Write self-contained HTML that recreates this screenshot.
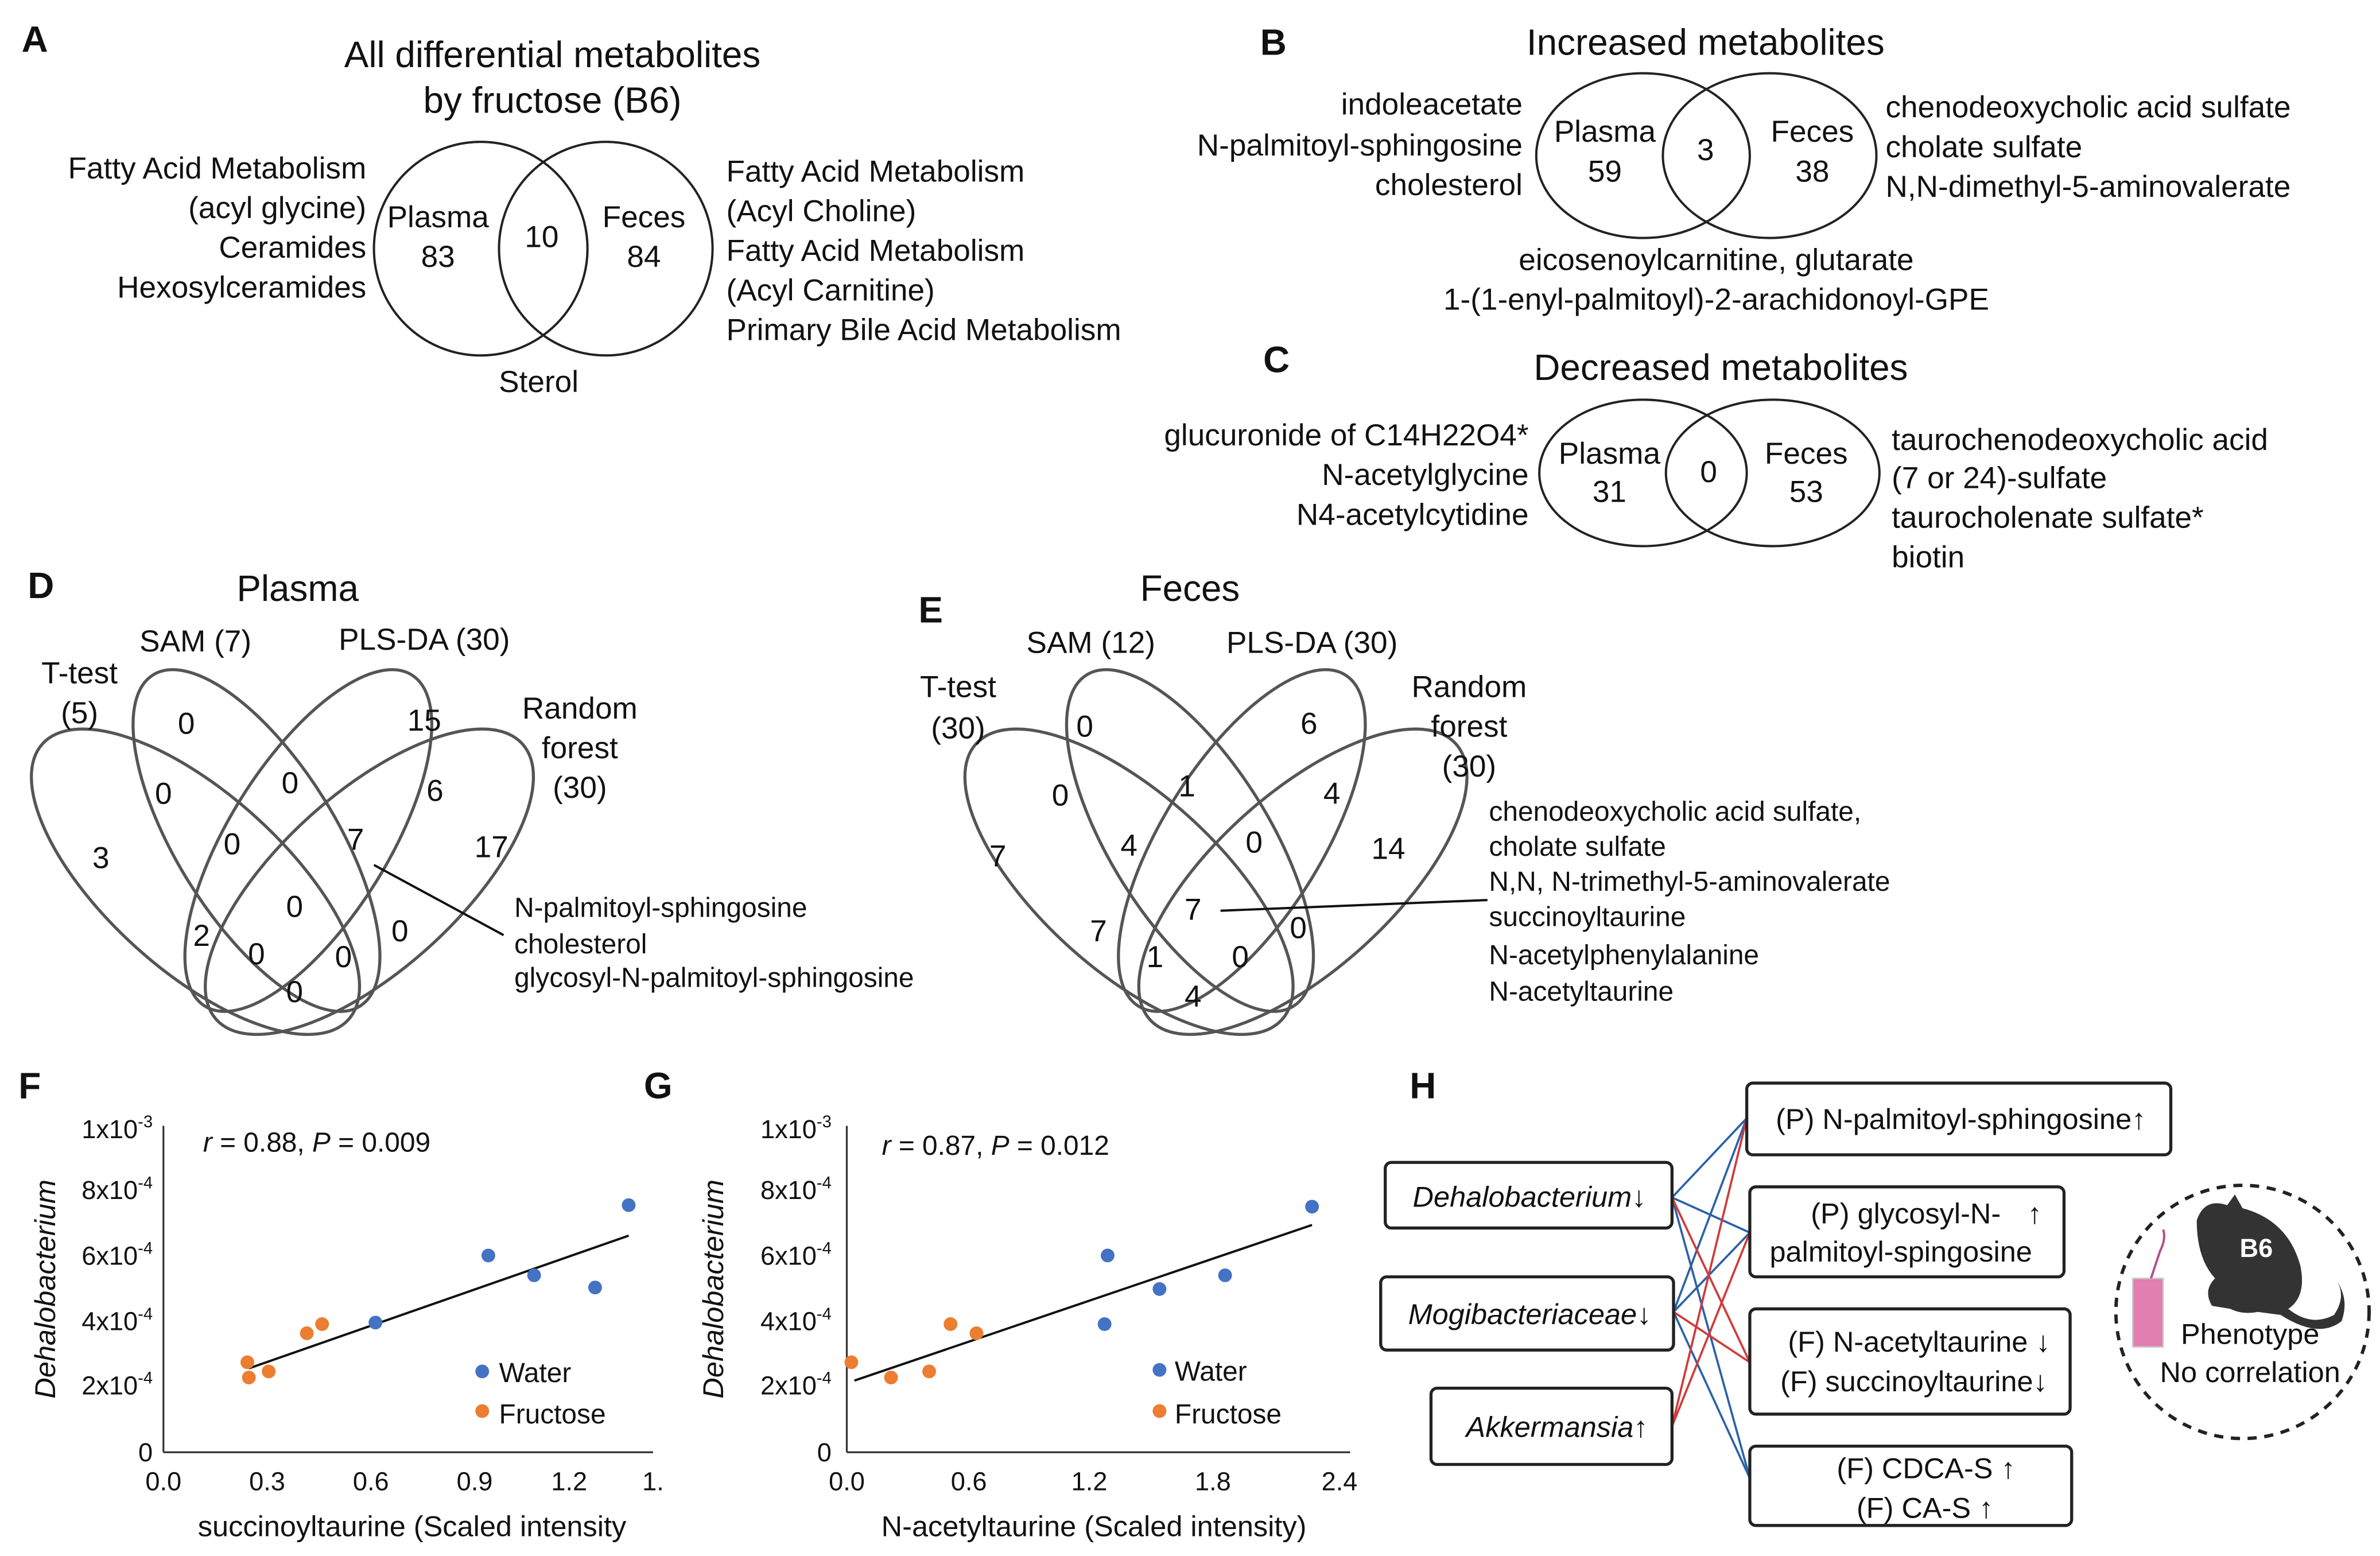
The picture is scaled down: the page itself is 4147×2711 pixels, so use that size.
<!DOCTYPE html>
<html><head><meta charset="utf-8"><style>
html,body{margin:0;padding:0;background:#fff;}
svg{display:block;}
text{font-family:"Liberation Sans",Arial,sans-serif;fill:#111;}
</style></head><body>
<svg width="4147" height="2711" viewBox="0 0 1560 1020" xmlns="http://www.w3.org/2000/svg">
<rect width="1560" height="1020" fill="#fff"/>
<!-- A -->
<text x="14" y="34" font-size="24" font-weight="bold">A</text>
<text x="362" y="44" font-size="24" text-anchor="middle">All differential metabolites</text>
<text x="362" y="74" font-size="24" text-anchor="middle">by fructose (B6)</text>
<g fill="none" stroke="#222" stroke-width="1.5">
<circle cx="315" cy="163" r="70"/><circle cx="397" cy="163" r="70"/></g>
<g font-size="20" text-anchor="middle">
<text x="287" y="149">Plasma</text><text x="287" y="175">83</text>
<text x="355" y="162">10</text>
<text x="422" y="149">Feces</text><text x="422" y="175">84</text>
<text x="353" y="257">Sterol</text></g>
<g font-size="20" text-anchor="end">
<text x="240" y="117">Fatty Acid Metabolism</text><text x="240" y="143">(acyl glycine)</text>
<text x="240" y="169">Ceramides</text><text x="240" y="195">Hexosylceramides</text></g>
<g font-size="20">
<text x="476" y="119">Fatty Acid Metabolism</text><text x="476" y="145">(Acyl Choline)</text>
<text x="476" y="171">Fatty Acid Metabolism</text><text x="476" y="197">(Acyl Carnitine)</text>
<text x="476" y="223">Primary Bile Acid Metabolism</text></g>
<!-- B -->
<text x="826" y="36" font-size="24" font-weight="bold">B</text>
<text x="1118" y="36" font-size="24" text-anchor="middle">Increased metabolites</text>
<g fill="none" stroke="#222" stroke-width="1.5">
<ellipse cx="1077" cy="102" rx="70" ry="54"/><ellipse cx="1160" cy="102" rx="70" ry="54"/></g>
<g font-size="20" text-anchor="middle">
<text x="1052" y="93">Plasma</text><text x="1052" y="119">59</text><text x="1118" y="105">3</text>
<text x="1188" y="93">Feces</text><text x="1188" y="119">38</text>
<text x="1125" y="177">eicosenoylcarnitine, glutarate</text>
<text x="1125" y="203">1-(1-enyl-palmitoyl)-2-arachidonoyl-GPE</text></g>
<g font-size="20" text-anchor="end">
<text x="998" y="75">indoleacetate</text><text x="998" y="102">N-palmitoyl-sphingosine</text><text x="998" y="128">cholesterol</text></g>
<g font-size="20">
<text x="1236" y="77">chenodeoxycholic acid sulfate</text><text x="1236" y="103">cholate sulfate</text><text x="1236" y="129">N,N-dimethyl-5-aminovalerate</text></g>
<!-- C -->
<text x="828" y="244" font-size="24" font-weight="bold">C</text>
<text x="1128" y="249" font-size="24" text-anchor="middle">Decreased metabolites</text>
<g fill="none" stroke="#222" stroke-width="1.5">
<ellipse cx="1077" cy="310" rx="68" ry="48"/><ellipse cx="1162" cy="310" rx="70" ry="48"/></g>
<g font-size="20" text-anchor="middle">
<text x="1055" y="304">Plasma</text><text x="1055" y="329">31</text><text x="1120" y="316">0</text>
<text x="1184" y="304">Feces</text><text x="1184" y="329">53</text></g>
<g font-size="20" text-anchor="end">
<text x="1002" y="292">glucuronide of C14H22O4*</text><text x="1002" y="318">N-acetylglycine</text><text x="1002" y="344">N4-acetylcytidine</text></g>
<g font-size="20">
<text x="1240" y="295">taurochenodeoxycholic acid</text><text x="1240" y="320">(7 or 24)-sulfate</text>
<text x="1240" y="346">taurocholenate sulfate*</text><text x="1240" y="372">biotin</text></g>
<!-- D -->
<text x="18" y="392" font-size="24" font-weight="bold">D</text>
<text x="195" y="394" font-size="24" text-anchor="middle">Plasma</text>
<g fill="none" stroke="#555" stroke-width="2">
<ellipse cx="128" cy="578" rx="135" ry="58" transform="rotate(42 128 578)"/>
<ellipse cx="168" cy="551" rx="128" ry="52" transform="rotate(58 168 551)"/>
<ellipse cx="202" cy="551" rx="128" ry="52" transform="rotate(-58 202 551)"/>
<ellipse cx="242" cy="578" rx="135" ry="58" transform="rotate(-42 242 578)"/>
</g>
<g font-size="20" text-anchor="middle">
<text x="128" y="427">SAM (7)</text><text x="278" y="426">PLS-DA (30)</text>
<text x="52" y="448">T-test</text><text x="52" y="474">(5)</text>
<text x="380" y="471">Random</text><text x="380" y="497">forest</text><text x="380" y="523">(30)</text>
<text x="122" y="481">0</text><text x="278" y="479">15</text><text x="107" y="527">0</text><text x="190" y="520">0</text>
<text x="285" y="525">6</text><text x="66" y="569">3</text><text x="152" y="560">0</text><text x="233" y="557">7</text>
<text x="322" y="562">17</text><text x="193" y="601">0</text><text x="132" y="620">2</text><text x="262" y="617">0</text>
<text x="168" y="632">0</text><text x="225" y="634">0</text><text x="193" y="657">0</text></g>
<line x1="245" y1="567" x2="330" y2="613" stroke="#111" stroke-width="1.5"/>
<g font-size="18"><text x="337" y="601">N-palmitoyl-sphingosine</text><text x="337" y="625">cholesterol</text><text x="337" y="647">glycosyl-N-palmitoyl-sphingosine</text></g>
<!-- E -->
<text x="602" y="408" font-size="24" font-weight="bold">E</text>
<text x="780" y="394" font-size="24" text-anchor="middle">Feces</text>
<g transform="translate(612,0)" fill="none" stroke="#555" stroke-width="2">
<ellipse cx="128" cy="578" rx="135" ry="58" transform="rotate(42 128 578)"/>
<ellipse cx="168" cy="551" rx="128" ry="52" transform="rotate(58 168 551)"/>
<ellipse cx="202" cy="551" rx="128" ry="52" transform="rotate(-58 202 551)"/>
<ellipse cx="242" cy="578" rx="135" ry="58" transform="rotate(-42 242 578)"/>
</g>
<g font-size="20" text-anchor="middle">
<text x="715" y="428">SAM (12)</text><text x="860" y="428">PLS-DA (30)</text>
<text x="628" y="457">T-test</text><text x="628" y="484">(30)</text>
<text x="963" y="457">Random</text><text x="963" y="483">forest</text><text x="963" y="509">(30)</text>
<text x="711" y="483">0</text><text x="858" y="481">6</text><text x="695" y="528">0</text><text x="778" y="522">1</text>
<text x="873" y="527">4</text><text x="654" y="568">7</text><text x="740" y="561">4</text><text x="822" y="559">0</text>
<text x="910" y="563">14</text><text x="782" y="603">7</text><text x="720" y="617">7</text><text x="851" y="615">0</text>
<text x="757" y="634">1</text><text x="813" y="634">0</text><text x="782" y="660">4</text></g>
<line x1="800" y1="597" x2="975" y2="590" stroke="#111" stroke-width="1.5"/>
<g font-size="18"><text x="976" y="538">chenodeoxycholic acid sulfate,</text><text x="976" y="561">cholate sulfate</text>
<text x="976" y="584">N,N, N-trimethyl-5-aminovalerate</text><text x="976" y="607">succinoyltaurine</text>
<text x="976" y="632">N-acetylphenylalanine</text><text x="976" y="656">N-acetyltaurine</text></g>
<!-- F -->
<text x="12" y="720" font-size="24" font-weight="bold">F</text>
<g stroke="#333" stroke-width="1.2"><line x1="107" y1="738" x2="107" y2="952"/><line x1="107" y1="952" x2="428" y2="952"/></g>
<g font-size="17" text-anchor="end">
<text x="100" y="746">1x10<tspan font-size="11" dy="-7">-3</tspan></text>
<text x="100" y="786">8x10<tspan font-size="11" dy="-7">-4</tspan></text>
<text x="100" y="829">6x10<tspan font-size="11" dy="-7">-4</tspan></text>
<text x="100" y="872">4x10<tspan font-size="11" dy="-7">-4</tspan></text>
<text x="100" y="914">2x10<tspan font-size="11" dy="-7">-4</tspan></text>
<text x="100" y="958">0</text></g>
<g font-size="17" text-anchor="middle"><text x="107" y="977">0.0</text><text x="175" y="977">0.3</text><text x="243" y="977">0.6</text><text x="311" y="977">0.9</text><text x="373" y="977">1.2</text><text x="428" y="977">1.</text>
<text x="270" y="1007" font-size="19">succinoyltaurine (Scaled intensity</text></g>
<text transform="translate(36 845) rotate(-90)" font-size="19" font-style="italic" text-anchor="middle">Dehalobacterium</text>
<text x="133" y="755" font-size="18"><tspan font-style="italic">r</tspan> = 0.88, <tspan font-style="italic">P</tspan> = 0.009</text>
<line x1="163" y1="897" x2="412" y2="810" stroke="#111" stroke-width="1.5"/>
<g fill="#4472c4"><circle cx="412" cy="790" r="4.5"/><circle cx="320" cy="823" r="4.5"/><circle cx="350" cy="836" r="4.5"/><circle cx="390" cy="844" r="4.5"/><circle cx="246" cy="867" r="4.5"/><circle cx="316" cy="899" r="4.5"/></g>
<g fill="#ed7d31"><circle cx="162" cy="893" r="4.5"/><circle cx="163" cy="903" r="4.5"/><circle cx="176" cy="899" r="4.5"/><circle cx="201" cy="874" r="4.5"/><circle cx="211" cy="868" r="4.5"/><circle cx="316" cy="925" r="4.5"/></g>
<text x="327" y="906" font-size="18">Water</text><text x="327" y="933" font-size="18">Fructose</text>
<!-- G -->
<text x="422" y="720" font-size="24" font-weight="bold">G</text>
<g stroke="#333" stroke-width="1.2"><line x1="555" y1="738" x2="555" y2="952"/><line x1="555" y1="952" x2="885" y2="952"/></g>
<g font-size="17" text-anchor="end">
<text x="545" y="746">1x10<tspan font-size="11" dy="-7">-3</tspan></text>
<text x="545" y="786">8x10<tspan font-size="11" dy="-7">-4</tspan></text>
<text x="545" y="829">6x10<tspan font-size="11" dy="-7">-4</tspan></text>
<text x="545" y="872">4x10<tspan font-size="11" dy="-7">-4</tspan></text>
<text x="545" y="914">2x10<tspan font-size="11" dy="-7">-4</tspan></text>
<text x="545" y="958">0</text></g>
<g font-size="17" text-anchor="middle"><text x="555" y="977">0.0</text><text x="635" y="977">0.6</text><text x="714" y="977">1.2</text><text x="795" y="977">1.8</text><text x="878" y="977">2.4</text>
<text x="717" y="1007" font-size="19">N-acetyltaurine (Scaled intensity)</text></g>
<text transform="translate(474 845) rotate(-90)" font-size="19" font-style="italic" text-anchor="middle">Dehalobacterium</text>
<text x="578" y="757" font-size="18"><tspan font-style="italic">r</tspan> = 0.87, <tspan font-style="italic">P</tspan> = 0.012</text>
<line x1="560" y1="905" x2="860" y2="803" stroke="#111" stroke-width="1.5"/>
<g fill="#4472c4"><circle cx="860" cy="791" r="4.5"/><circle cx="726" cy="823" r="4.5"/><circle cx="760" cy="845" r="4.5"/><circle cx="803" cy="836" r="4.5"/><circle cx="724" cy="868" r="4.5"/><circle cx="760" cy="898" r="4.5"/></g>
<g fill="#ed7d31"><circle cx="558" cy="893" r="4.5"/><circle cx="584" cy="903" r="4.5"/><circle cx="609" cy="899" r="4.5"/><circle cx="623" cy="868" r="4.5"/><circle cx="640" cy="874" r="4.5"/><circle cx="760" cy="925" r="4.5"/></g>
<text x="770" y="905" font-size="18">Water</text><text x="770" y="933" font-size="18">Fructose</text>
<!-- H -->
<text x="924" y="720" font-size="24" font-weight="bold">H</text>
<g stroke-width="1.4" fill="none">
<g stroke="#2b62a8">
<line x1="1096" y1="785" x2="1145" y2="733"/><line x1="1096" y1="785" x2="1147" y2="808"/><line x1="1096" y1="785" x2="1147" y2="969"/>
<line x1="1097" y1="860" x2="1145" y2="733"/><line x1="1097" y1="860" x2="1147" y2="808"/><line x1="1097" y1="860" x2="1147" y2="969"/></g>
<g stroke="#d03a3a">
<line x1="1096" y1="785" x2="1147" y2="893"/><line x1="1097" y1="860" x2="1147" y2="893"/>
<line x1="1096" y1="935" x2="1145" y2="733"/><line x1="1096" y1="935" x2="1147" y2="808"/></g>
</g>
<g fill="#fff" stroke="#222" stroke-width="2">
<rect x="908" y="762" width="188" height="43" rx="4"/>
<rect x="905" y="837" width="192" height="48" rx="4"/>
<rect x="938" y="910" width="158" height="50" rx="4"/>
<rect x="1145" y="710" width="278" height="47" rx="4"/>
<rect x="1147" y="778" width="206" height="59" rx="4"/>
<rect x="1147" y="858" width="210" height="69" rx="4"/>
<rect x="1147" y="948" width="211" height="52" rx="4"/></g>
<g font-size="19">
<text x="926" y="791" font-style="italic">Dehalobacterium<tspan font-style="normal">↓</tspan></text>
<text x="923" y="868" font-style="italic">Mogibacteriaceae<tspan font-style="normal">↓</tspan></text>
<text x="961" y="942" font-style="italic">Akkermansia<tspan font-style="normal">↑</tspan></text>
<text x="1164" y="740">(P) N-palmitoyl-sphingosine↑</text>
<text x="1187" y="802">(P) glycosyl-N-</text><text x="1329" y="802">↑</text>
<text x="1160" y="827">palmitoyl-spingosine</text>
<text x="1172" y="886">(F) N-acetyltaurine ↓</text>
<text x="1167" y="912">(F) succinoyltaurine↓</text>
<text x="1204" y="969">(F) CDCA-S ↑</text>
<text x="1217" y="995">(F) CA-S ↑</text></g>
<circle cx="1470" cy="860" r="83" fill="none" stroke="#222" stroke-width="2.2" stroke-dasharray="6 5"/>
<path d="M1440 800 Q1445 785 1460 790 L1465 783 L1470 792 Q1500 800 1508 830 Q1512 850 1500 858 Q1515 870 1530 862 Q1538 850 1532 840 Q1540 852 1535 866 Q1520 878 1495 862 L1480 860 Q1470 862 1462 858 L1450 856 Q1444 846 1452 838 Q1440 825 1440 800 Z" fill="#333"/>
<text x="1479" y="824" font-size="17" font-weight="bold" fill="#fff" style="fill:#fff" text-anchor="middle">B6</text>
<rect x="1398" y="838" width="20" height="45" fill="#e07fb0" stroke="#ccc"/>
<path d="M1410 838 L1416 820 Q1420 812 1418 806" stroke="#b05090" fill="none" stroke-width="1.5"/>
<text x="1475" y="881" font-size="19" text-anchor="middle">Phenotype</text>
<text x="1475" y="906" font-size="19" text-anchor="middle">No correlation</text>
</svg>
</body></html>
